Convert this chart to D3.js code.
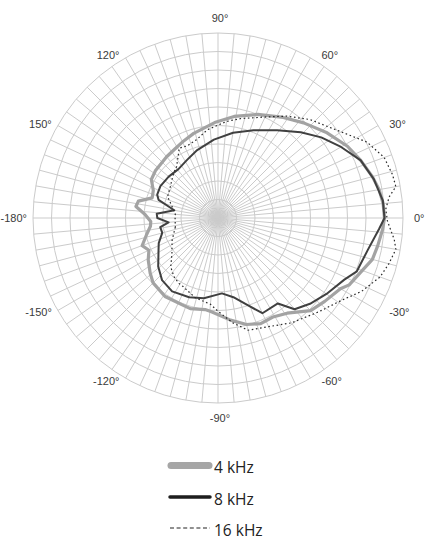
<!DOCTYPE html>
<html>
<head>
<meta charset="utf-8">
<script src="https://cdn.jsdelivr.net/npm/d3@7"></script>
<style>
html,body{margin:0;padding:0;background:#fff;}
svg{display:block;}
</style>
</head>
<body>
<svg id="chart" width="443" height="540"></svg>
<script>
// ---------- data (angle in degrees, level in dB) ----------
const angles4k = [-177,-173,-167,-160,-155,-149,-141,-135,-124,-112,-107,-98,-94,-83,-75,-68,-61,-54,-45,-38,-30,-27,-21,-15,-10,-4,0,5,10,15,22,29,38,48,57,69,81,92,106,114,122,130,143,150,157,163,168,172,177];
const db4k     = [-15.9,-15.8,-15.1,-14.1,-14.7,-14.0,-13.2,-12.6,-12.2,-12.3,-12.2,-12.5,-12.3,-11.1,-10.1,-9.6,-9.7,-9.1,-7.3,-6.7,-5.9,-5.1,-4.4,-3.4,-3.1,-2.7,-2.5,-2.6,-2.9,-3.4,-4.2,-5.0,-6.3,-7.7,-8.8,-10.0,-11.1,-12.1,-13.1,-13.6,-14.0,-14.2,-14.4,-14.6,-15.5,-15.7,-14.0,-13.8,-15.1];

const angles8k = [-180,-175,-171,-165,-157,-152,-141,-132,-122,-110,-100,-87,-79,-71,-65,-55,-50,-43,-35,-26,-21,-12,-4,0,6,14,22,30,38,46,56,68,80,93,107,118,129,140,151,159,163,170,176];
const db8k     = [-16.8,-18.3,-17.1,-17.2,-16.3,-15.9,-14.6,-13.7,-13.3,-13.6,-14.0,-14.8,-14.1,-12.5,-10.8,-10.9,-8.9,-8.0,-7.1,-6.0,-4.9,-4.3,-3.2,-2.5,-2.6,-3.3,-4.2,-5.8,-7.3,-8.9,-10.7,-12.2,-13.3,-14.4,-15.4,-16.1,-16.5,-16.3,-16.1,-16.2,-16.6,-19.0,-16.7];

const angles16k = [-168,-154,-142,-134,-127,-121,-117,-112,-106,-95,-90,-82,-75,-65,-55,-43,-34,-27,-20,-15,-10,-7,-4,-1,3,7,10,14,20,27,35,47,56,64,77,85,97,105,113,119,123,129,135,147,157,166,174,179];
const db16k     = [-19.1,-18.1,-17.1,-15.8,-15.1,-14.7,-14.6,-14.3,-13.8,-13.3,-12.4,-10.7,-9.3,-8.8,-7.7,-6.4,-5.0,-3.2,-1.7,-1.1,-0.6,-1.0,-1.6,-2.1,-2.3,-1.7,-0.6,-0.7,-1.1,-2.4,-4.7,-6.8,-8.4,-9.8,-11.2,-11.9,-13.0,-14.0,-14.4,-14.2,-15.1,-16.1,-16.5,-17.3,-17.6,-18.6,-19.2,-19.2];

const ringLevels = [-22.5,-20,-17.5,-15,-12.5,-10,-7.5,-5,-2.5,0];
const spokeAngles = d3.range(-180, 180, 5);
const tickAngles = [0,30,60,90,120,150,180,-150,-120,-90,-60,-30];
const tickLabels = ["0°","30°","60°","90°","120°","150°","-180°","-150°","-120°","-90°","-60°","-30°"];
const seriesNames = ["4 kHz","8 kHz","16 kHz"];

// ---------- layout ----------
const cx = 218, cy = 218, R = 185;
const svg = d3.select("#chart");
const r = d3.scaleLinear().domain([-25, 0]).range([0, R]);
// lineRadial angle: 0 = 12 o'clock, clockwise. Map math degrees (0 = right, CCW).
const ang = d3.scaleLinear().domain([-180, 180]).range([1.5 * Math.PI, -0.5 * Math.PI]);

const g = svg.append("g").attr("transform", `translate(${cx},${cy})`);

// grid
const grid = g.append("g").attr("stroke", "#cbcbcb").attr("fill", "none").attr("stroke-width", 1);
grid.selectAll("line").data(spokeAngles).join("line")
  .attr("x1", 0).attr("y1", 0)
  .attr("x2", d => R * Math.sin(ang(d)))
  .attr("y2", d => -R * Math.cos(ang(d)));
grid.selectAll("circle").data(ringLevels).join("circle")
  .attr("r", d => r(d));

// labels
const lab = svg.append("g")
  .attr("font-family", "'Liberation Sans', Arial, sans-serif")
  .attr("font-size", 11).attr("fill", "#3a3a3a");
tickAngles.forEach((t, i) => {
  const rad = t * Math.PI / 180;
  const c = Math.cos(rad), s = Math.sin(rad);
  let x = cx + R * c, y = cy - R * s, anchor = "middle";
  if (Math.abs(c) < 0.01) { y += -15 * s; x += 2; }
  else if (c > 0) { anchor = "start"; x += 11; y += -3.5 * s; }
  else { anchor = "end"; x -= 6; y += -3.5 * s; }
  lab.append("text").attr("x", x).attr("y", y)
    .attr("text-anchor", anchor).attr("dominant-baseline", "central")
    .text(tickLabels[i]);
});

// series
const line = d3.lineRadial().curve(d3.curveLinearClosed);
function pts(a, v) { return a.map((d, i) => [ang(d), r(v[i])]); }

g.append("path").attr("d", line(pts(angles4k, db4k)))
  .attr("fill", "none").attr("stroke", "#a3a3a3").attr("stroke-width", 3.2).attr("stroke-linejoin", "round");
g.append("path").attr("d", line(pts(angles8k, db8k)))
  .attr("fill", "none").attr("stroke", "#404040").attr("stroke-width", 2).attr("stroke-linejoin", "round");
g.append("path").attr("d", line(pts(angles16k, db16k)))
  .attr("fill", "none").attr("stroke", "#2a2a2a").attr("stroke-width", 1.2).attr("stroke-dasharray", "1.6,2.6");

// legend
const legY = [465.5, 497, 528];
const leg = svg.append("g");
const styles = [
  {stroke: "#a6a6a6", w: 7, dash: null, cap: "round"},
  {stroke: "#1e1e1e", w: 3.5, dash: null, cap: "round"},
  {stroke: "#222", w: 1.2, dash: "4,2.6", cap: "butt"}
];
seriesNames.forEach((n, i) => {
  const st = styles[i];
  const l = leg.append("line").attr("x1", i === 0 ? 171 : 170).attr("x2", i === 0 ? 209 : 210)
    .attr("y1", legY[i]).attr("y2", legY[i])
    .attr("stroke", st.stroke).attr("stroke-width", st.w).attr("stroke-linecap", st.cap);
  if (st.dash) l.attr("stroke-dasharray", st.dash);
  leg.append("text").attr("x", 214).attr("y", legY[i] + 7.5)
    .attr("font-family", "'Open Sans', sans-serif").attr("font-size", 15.5).attr("fill", "#222")
    .text(n);
});
</script>
</body>
</html>
